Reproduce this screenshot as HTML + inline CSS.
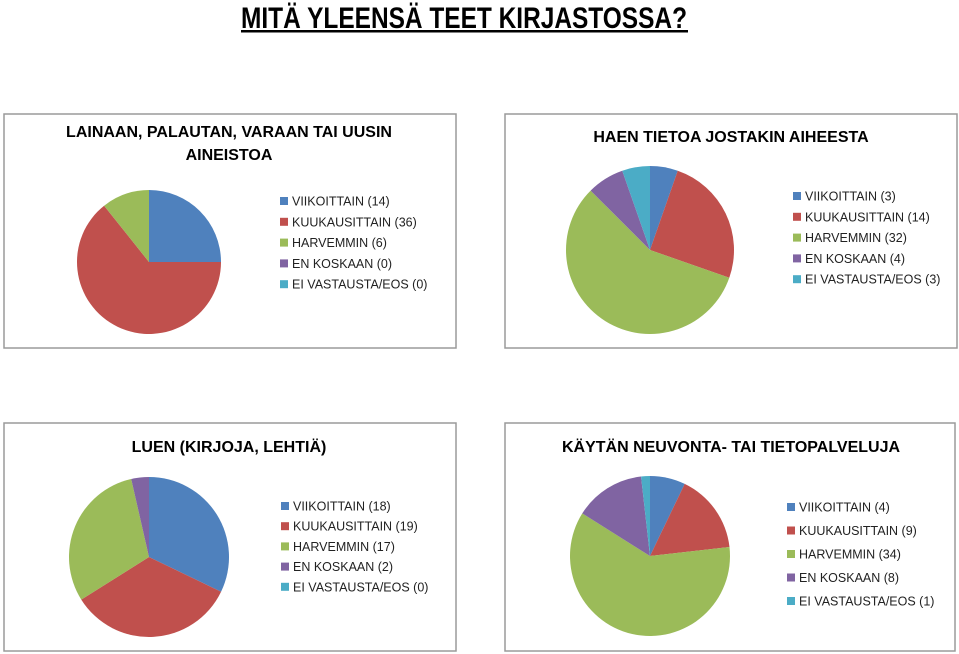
<!DOCTYPE html>
<html><head><meta charset="utf-8"><style>
body{margin:0;background:#fff;}
svg{display:block;font-family:"Liberation Sans",sans-serif;}
</style></head><body>
<svg id="s" width="959" height="654" viewBox="0 0 959 654" xmlns="http://www.w3.org/2000/svg">
<text x="464" y="28" text-anchor="middle" font-size="30" font-weight="bold" textLength="446" lengthAdjust="spacingAndGlyphs">MITÄ YLEENSÄ TEET KIRJASTOSSA?</text>
<rect x="241" y="30" width="447" height="2.5" fill="#000"/>
</svg>
<script>
const colors=["#4f81bd","#c0504d","#9bbb59","#8064a2","#4bacc6"];
const labels=["VIIKOITTAIN","KUUKAUSITTAIN","HARVEMMIN","EN KOSKAAN","EI VASTAUSTA/EOS"];
const values1=[14,36,6,0,0];
const values2=[3,14,32,4,3];
const values3=[18,19,17,2,0];
const values4=[4,9,34,8,1];
const titles=[["LAINAAN, PALAUTAN, VARAAN TAI UUSIN","AINEISTOA"],["HAEN TIETOA JOSTAKIN AIHEESTA"],["LUEN (KIRJOJA, LEHTIÄ)"],["KÄYTÄN NEUVONTA- TAI TIETOPALVELUJA"]];
const NS="http://www.w3.org/2000/svg";
const svg=document.getElementById('s');
function mk(tag,attrs,parent){const e=document.createElementNS(NS,tag);for(const k in attrs)e.setAttribute(k,attrs[k]);(parent||svg).appendChild(e);return e;}
const charts=[
 {vals:values1,box:[4,114,452,234],cx:149,cy:262,r:72,tl:[137,160],tx:229,lx:280,ly:201,ls:20.8,tsize:16},
 {vals:values2,box:[505,114,452,234],cx:650,cy:250,r:84,tl:[142],tx:731,lx:793,ly:196,ls:20.8,tsize:16},
 {vals:values3,box:[4,423,452,228],cx:149,cy:557,r:80,tl:[452],tx:229,lx:281,ly:506,ls:20.2,tsize:16},
 {vals:values4,box:[505,423,450,228],cx:650,cy:556,r:80,tl:[452],tx:731,lx:787,ly:507,ls:23.5,tsize:16}
];
charts.forEach((c,ci)=>{
 const g=mk('g',{});
 
 
 const b=mk('rect',{x:c.box[0],y:c.box[1],width:c.box[2],height:c.box[3],fill:'#fff',stroke:'#9a9a9a','stroke-width':1.5},g);
 
 
 titles[ci].forEach((t,i)=>{
  const te=mk('text',{x:c.tx,y:c.tl[i],'text-anchor':'middle','font-size':c.tsize,'font-weight':'bold',fill:'#000'},g);
  te.textContent=t;
  
  
 });
 const tot=c.vals.reduce((a,b)=>a+b,0);
 let a0=0;
 c.vals.forEach((v,i)=>{
  if(v<=0)return;
  const a1=a0+v/tot*2*Math.PI;
  const x0=c.cx+c.r*Math.sin(a0),y0=c.cy-c.r*Math.cos(a0);
  const x1=c.cx+c.r*Math.sin(a1),y1=c.cy-c.r*Math.cos(a1);
  const large=(a1-a0)>Math.PI?1:0;
  const p=mk('path',{d:`M${c.cx},${c.cy}L${x0},${y0}A${c.r},${c.r} 0 ${large} 1 ${x1},${y1}Z`,fill:colors[i]},g);
  
  
  a0=a1;
 });
 labels.forEach((l,i)=>{
  const y=c.ly+i*c.ls;
  const sq=mk('rect',{x:c.lx,y:y-4,width:8,height:8,fill:colors[i]},g);
  
  
  const t=mk('text',{x:c.lx+12,y:y+4.5,'font-size':12.5,fill:'#222'},g);
  t.textContent=l+(ci==3&&i==4?'  ':' ')+'('+c.vals[i]+')';
  
  
 });
});
</script>
</body></html>
